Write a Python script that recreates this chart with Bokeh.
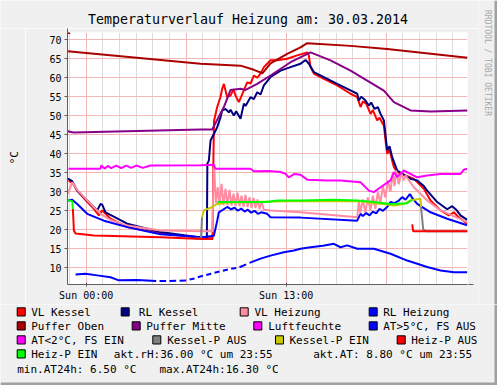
import math
from bokeh.plotting import figure
from bokeh.layouts import column, row
from bokeh.models import Range1d, FixedTicker, Arrow, NormalHead
from bokeh.core.properties import value
from bokeh.embed import file_html
from bokeh.resources import INLINE

NAN = float("nan")

# ---------------- data (x = hours after Sun 00:00, real elapsed time) ----------------
VL_KESSEL_T = [-1.06, -0.82, -0.54, -0.04, 0.46, 0.76, 0.96, 1.46, 2.46, 4.46, 6.96, 7.58, 7.64, 7.67, 7.86,
               8.06, 8.16, 8.26, 8.46, 8.66, 8.84, 8.96, 9.16, 9.46, 9.66, 9.86, 10.06, 10.26, 10.46, 10.66,
               11.06, 11.46, 12.06, 12.66, 13.26, 13.36, 13.46, 13.66, 14.26, 15.06, 15.86, 16.26, 16.46, 16.6,
               16.8, 17.06, 17.2, 17.46, 17.6, 17.86, 18.0, 18.06, 18.2, 18.36, 18.46, 18.66, 19.66, 20.26,
               20.66, 21.26, 21.76, 22.06, 22.3, 22.86]
VL_KESSEL_V = [33.0, 32.3, 30.3, 27.8, 25.5, 23.8, 25.1, 22.9, 20.7, 19.0, 17.9, 17.8, 41.0, 48.7, 52.3,
               55.0, 57.1, 58.4, 54.9, 55.3, 57.0, 55.3, 53.6, 56.7, 58.8, 58.5, 60.6, 60.0, 61.1, 62.8,
               64.6, 64.6, 65.0, 65.9, 66.7, 65.9, 62.8, 61.1, 59.7, 58.0, 55.8, 54.9, 52.3, 53.8,
               53.2, 50.5, 51.5, 48.8, 49.5, 47.4, 42.0, 40.0, 41.0, 38.2, 36.5, 35.2, 33.4, 30.8,
               27.7, 25.1, 23.8, 24.6, 23.5, 21.6]

RL_KESSEL_T = [-1.10, -0.84, -0.54, 0.46, 0.66, 0.86, 0.96, 1.16, 2.46, 4.46, 6.96, 7.24, 7.27, 7.36, 7.46,
               7.66, 7.86, 8.06, 8.16, 8.36, 8.56, 8.66, 8.86, 9.0, 9.26, 9.46, 9.56, 9.86, 10.06, 10.26,
               10.46, 10.66, 11.06, 11.66, 12.26, 12.86, 13.16, 13.36, 13.66, 14.26, 15.06, 15.86, 16.26,
               16.36, 16.5, 16.7, 16.96, 17.1, 17.3, 17.5, 17.66, 17.86, 18.06, 18.2, 18.36, 18.66, 19.46,
               19.86, 20.26, 20.46, 21.06, 21.66, 21.96, 22.2, 22.46, 22.86]
RL_KESSEL_V = [33.5, 32.8, 30.3, 25.95, 25.1, 26.8, 26.6, 24.6, 21.6, 19.4, 17.9, 17.9, 37.4, 38.2, 43.5,
               45.2, 47.0, 49.6, 51.4, 51.8, 50.9, 51.6, 50.1, 51.2, 49.2, 53.2, 52.6, 54.9, 54.4, 56.2,
               55.6, 58.0, 60.2, 61.9, 62.8, 63.7, 64.7, 63.7, 61.5, 60.2, 58.4, 56.7, 55.8,
               54.0, 55.0, 54.3, 52.7, 53.5, 51.8, 52.3, 50.5, 48.8, 40.9, 42.0, 39.1, 35.6, 33.4,
               33.0, 31.5, 30.3, 27.3, 25.4, 26.2, 25.3, 23.8, 22.6]

VL_HEIZUNG_T = [-1.10, -0.84, -0.54, 0.0, 0.46, 0.86, 1.5, 2.46, 4.46, 6.96, 7.58, 7.64, 7.68, 7.78, 7.9,
                8.0, 8.12, 8.24, 8.36, 8.48, 8.6, 8.72, 8.84, 8.96, 9.08, 9.2, 9.32, 9.44, 9.56, 9.68,
                9.8, 9.92, 10.04, 10.16, 10.28, 10.4, 10.52, 10.66, 11.06, 12.86, 16.26, 16.36, 16.45, 16.6,
                16.75, 16.9, 17.05, 17.2, 17.35, 17.5, 17.65, 17.8, 17.95, 18.1, 18.25, 18.4, 18.5, 18.6,
                18.75, 18.9, 19.05, 19.16, 19.66, 20.46, 21.26, 22.86]
VL_HEIZUNG_V = [29.5, 32.5, 30.5, 28.0, 25.95, 24.2, 22.5, 21.1, 19.8, 19.6, 19.6, 35.6, 36.5, 27.0, 31.2,
                26.5, 32.1, 26.5, 30.8, 26.4, 30.5, 26.4, 29.5, 26.3, 29.8, 26.2, 29.0, 26.0, 29.2, 26.0,
                28.6, 25.8, 28.4, 25.7, 28.0, 25.5, 27.5, 25.3, 25.1, 24.6, 23.3, 27.5, 24.5, 28.0,
                24.5, 28.5, 25.0, 29.0, 25.5, 30.0, 27.0, 31.5, 28.5, 33.0, 30.0, 35.0, 31.5, 35.6,
                32.0, 35.0, 33.0, 34.3, 31.2, 27.7, 25.1, 22.0]

RL_HEIZUNG_T = [-1.10, -0.84, -0.54, 0.06, 1.06, 2.46, 4.46, 6.96, 7.66, 7.86, 7.96, 8.46, 8.7, 8.9, 9.1,
                9.3, 9.5, 9.7, 9.9, 10.1, 10.3, 10.5, 10.86, 11.06, 12.86, 16.26, 16.46, 16.6, 16.8, 17.0,
                17.2, 17.4, 17.6, 17.8, 18.06, 18.26, 18.5, 18.76, 18.96, 19.16, 19.42, 19.56, 19.86, 20.66,
                21.66, 22.86]
RL_HEIZUNG_V = [27.7, 27.9, 26.8, 24.2, 22.4, 20.7, 18.8, 18.05, 18.4, 22.4, 24.6, 26.0, 25.4, 25.8, 25.0,
                25.6, 24.8, 25.3, 24.5, 25.0, 24.2, 24.6, 24.2, 23.3, 23.2, 22.4, 24.2, 23.6, 24.4, 23.8,
                24.8, 24.3, 25.5, 25.0, 26.0, 27.3, 27.0, 27.7, 28.6, 27.9, 29.4, 28.4, 26.8, 24.6,
                22.9, 21.2]

PUFFER_OBEN_T = [-1.12, 6.86, 9.26, 10.06, 10.58, 11.06, 12.06, 12.86, 13.26, 15.86, 18.06, 22.88]
PUFFER_OBEN_V = [67.0, 63.7, 63.2, 62.1, 61.2, 63.8, 66.3, 68.0, 69.1, 68.4, 67.6, 65.3]

PUFFER_MITTE_T = [-1.12, -0.76, 6.86, 7.56, 8.26, 8.66, 9.26, 9.56, 10.26, 11.06, 12.26, 13.46, 14.66,
                  15.86, 17.86, 18.46, 19.46, 20.66, 22.88]
PUFFER_MITTE_V = [45.95, 45.6, 46.4, 46.4, 52.3, 56.8, 57.1, 56.8, 58.4, 60.6, 64.1, 66.7, 64.6,
                  61.9, 56.6, 53.6, 51.4, 51.1, 51.4]

LUFTFEUCHTE_T = [-1.06, 0.86, 0.9, 1.1, 1.3, 1.5, 1.8, 2.1, 2.4, 2.7, 3.0, 3.4, 3.86, 6.86, 7.66, 7.76,
                 9.86, 10.06, 11.0, 11.66, 11.96, 12.16, 12.5, 12.86, 13.26, 14.5, 15.26, 16.46, 16.96,
                 17.26, 17.66, 18.26, 18.46, 18.66, 19.06, 19.86, 20.46, 21.26, 22.46, 22.66, 22.86]
LUFTFEUCHTE_V = [36.05, 36.05, 36.9, 36.1, 36.8, 36.2, 36.9, 36.2, 36.9, 36.3, 36.9, 36.3, 36.9, 37.0,
                 37.1, 36.05, 36.05, 35.4, 35.5, 35.2, 34.7, 33.8, 34.7, 34.5, 33.2, 33.0, 33.0, 32.5,
                 30.3, 29.9, 31.2, 33.0, 35.2, 33.9, 35.6, 33.8, 34.3, 34.7, 34.7, 35.8, 36.05]

# outside temperature above 5 °C (gaps = missing samples)
AT_WARM_T = [-0.64, -0.04, 0.66, 1.46, 1.96, 3.06, 4.2, NAN, 4.4, 4.8, NAN, 5.0, 5.4, NAN, 5.6, 6.0, NAN,
             6.2, 6.5, NAN, 6.7, 7.0, NAN, 7.2, 7.5, NAN, 7.7, 8.0, NAN, 8.2, 8.5, NAN, 8.7, 9.0, NAN,
             9.2, 9.6, NAN, 9.8, 10.46, 11.06, 11.86, 12.46, 12.86, 13.46, 14.2, 14.86, 15.26, 15.66,
             16.26, 17.26, 18.26, 19.26, 20.46, 21.26, 22.06, 22.86]
AT_WARM_V = [8.2, 8.4, 8.0, 7.5, 6.7, 6.8, 6.5, NAN, 6.5, 6.55, NAN, 6.55, 6.6, NAN, 6.6, 6.65, NAN,
             6.9, 7.2, NAN, 7.5, 7.9, NAN, 8.1, 8.45, NAN, 8.7, 9.0, NAN, 9.2, 9.55, NAN, 9.75, 9.95, NAN,
             10.15, 10.9, NAN, 11.3, 12.4, 13.2, 14.1, 14.55, 15.0, 15.4, 15.8, 16.3, 15.4, 15.9,
             15.0, 15.0, 13.7, 11.9, 10.2, 9.3, 8.85, 8.8]

KESSEL_P_AUS_T = [6.5, 6.89, 6.95, NAN, 20.09, 20.22, 20.4, 22.88]
KESSEL_P_AUS_V = [17.7, 17.7, 23.3, NAN, 26.0, 20.1, 19.6, 19.6]

KESSEL_P_EIN_T = [6.95, 7.06, 7.46, 7.86, 8.5, 12.0, 16.5, 17.26, 17.86, 18.46, 19.06, 19.46, 20.06, 20.09]
KESSEL_P_EIN_V = [23.3, 25.1, 25.8, 26.8, 27.2, 27.5, 27.5, 27.0, 26.8, 26.4, 26.8, 27.7, 28.2, 26.0]

HEIZ_P_AUS_T = [-0.80, -0.76, -0.74, -0.64, 0.46, 4.46, 6.96, 7.62, NAN, 19.56, 19.62, 22.88]
HEIZ_P_AUS_V = [25.5, 22.0, 19.8, 19.0, 18.5, 18.05, 17.6, 17.6, NAN, 21.4, 19.6, 19.6]

HEIZ_P_EIN_T = [-1.10, -0.84, -0.80, NAN, 7.86, 8.86, 10.86, 11.46, 12.86, 14.86, 16.26, 17.26, 18.26,
                19.26, 19.46, 19.56]
HEIZ_P_EIN_V = [27.8, 27.5, 25.5, NAN, 27.3, 27.3, 27.3, 27.7, 27.7, 27.9, 27.7, 27.3, 26.8,
                27.0, 27.7, 27.8]

Y_TICKS = [10, 15, 20, 25, 30, 35, 40, 45, 50, 55, 60, 65, 70]
X_LABEL_TICKS = [0, 12]
X_LABELS = ["Sun 00:00", "Sun 13:00"]
X_MAJOR_GRID = [0, 6, 12, 18]
X_MINOR_GRID = list(range(-1, 23))

TITLE = "Temperaturverlauf Heizung am: 30.03.2014"
Y_LABEL = "°C"
WATERMARK = "RRDTOOL / TOBI OETIKER"

LEGEND_LABELS = ["VL Kessel", "RL Kessel", "VL Heizung", "RL Heizung",
                 "Puffer Oben", "Puffer Mitte", "Luftfeuchte", "AT>5°C, FS AUS",
                 "AT<2°C, FS EIN", "Kessel-P AUS", "Kessel-P EIN", "Heiz-P AUS",
                 "Heiz-P EIN"]
LEGEND_COLORS = ["#FF0000", "#000080", "#FF8CA0", "#0000FF",
                 "#AA0000", "#880088", "#FF00FF", "#0000FF",
                 "#FF00FF", "#808080", "#C8C800", "#FF0000",
                 "#00FF00"]
INFO_TEXTS = ["akt.rH:36.00 °C um 23:55", "akt.AT: 8.80 °C um 23:55",
              "min.AT24h: 6.50 °C", "max.AT24h:16.30 °C"]

# ---------------- layout geometry (page pixels) ----------------
FONT = "DejaVu Sans Mono"
BG = "#F0F0F0"
EDGE = "#A0A0A0"
W, H = 497, 385
LEFT_W = 25          # strip holding the rotated unit label
WM_X = 478           # watermark strip starts here
TITLE_H = 28
MAIN_BOTTOM = 304    # main chart strip ends here
FRAME_L, FRAME_R, FRAME_T, FRAME_B = 67, 467, 32, 284
TXT_SHIFT = -3.0     # text glyph baseline correction


def strip(x0, x1, y0, y1):
    """A plain figure whose data coordinates are page pixels (y grows downwards)."""
    f = figure(width=x1 - x0, height=y1 - y0, output_backend="svg", toolbar_location=None,
               x_range=Range1d(x0, x1), y_range=Range1d(y1, y0),
               x_axis_type=None, y_axis_type=None,
               min_border_left=0, min_border_right=0, min_border_top=0, min_border_bottom=0,
               background_fill_color=BG, border_fill_color=BG, outline_line_color=None)
    f.xgrid.visible = False
    f.ygrid.visible = False
    return f


def no_align(f):
    try:
        f.frame_align = False
    except Exception:
        pass
    return f


# ---------------- main chart ----------------
MAIN_W = WM_X - LEFT_W
MAIN_H = MAIN_BOTTOM - TITLE_H
p = figure(width=MAIN_W, height=MAIN_H, output_backend="svg", toolbar_location=None,
           x_range=Range1d(-1.122, 22.878), y_range=Range1d(5.6, 71.92),
           min_border_left=FRAME_L - LEFT_W, min_border_right=WM_X - FRAME_R,
           min_border_top=FRAME_T - TITLE_H, min_border_bottom=MAIN_BOTTOM - FRAME_B,
           background_fill_color="white", border_fill_color=BG, outline_line_color=None)

p.xgrid.ticker = FixedTicker(ticks=X_MAJOR_GRID, minor_ticks=X_MINOR_GRID)
p.xgrid.grid_line_color = "#F2B8B8"
p.xgrid.minor_grid_line_color = "#DCDCDC"
p.ygrid.ticker = FixedTicker(ticks=Y_TICKS)
p.ygrid.grid_line_color = "#F2B8B8"

p.yaxis.ticker = FixedTicker(ticks=Y_TICKS)
p.xaxis.ticker = FixedTicker(ticks=X_LABEL_TICKS)
p.xaxis.major_label_overrides = {t: s for t, s in zip(X_LABEL_TICKS, X_LABELS)}
for ax in (p.xaxis, p.yaxis):
    ax.axis_line_color = "#606060"
    ax.major_tick_line_color = "#606060"
    ax.minor_tick_line_color = None
    ax.major_label_text_font = FONT
    ax.major_label_text_font_size = "10px"
    ax.major_label_text_color = "#000000"
p.yaxis.major_tick_out = 3
p.yaxis.major_tick_in = 0
p.yaxis.major_label_standoff = 3
p.xaxis.major_tick_out = 2
p.xaxis.major_tick_in = 2
p.xaxis.major_label_standoff = 3

series = [
    (VL_KESSEL_T, VL_KESSEL_V, LEGEND_COLORS[0]),
    (RL_KESSEL_T, RL_KESSEL_V, LEGEND_COLORS[1]),
    (VL_HEIZUNG_T, VL_HEIZUNG_V, LEGEND_COLORS[2]),
    (RL_HEIZUNG_T, RL_HEIZUNG_V, LEGEND_COLORS[3]),
    (PUFFER_OBEN_T, PUFFER_OBEN_V, LEGEND_COLORS[4]),
    (PUFFER_MITTE_T, PUFFER_MITTE_V, LEGEND_COLORS[5]),
    (LUFTFEUCHTE_T, LUFTFEUCHTE_V, LEGEND_COLORS[6]),
    (AT_WARM_T, AT_WARM_V, LEGEND_COLORS[7]),
    (KESSEL_P_AUS_T, KESSEL_P_AUS_V, LEGEND_COLORS[9]),
    (KESSEL_P_EIN_T, KESSEL_P_EIN_V, LEGEND_COLORS[10]),
    (HEIZ_P_AUS_T, HEIZ_P_AUS_V, LEGEND_COLORS[11]),
    (HEIZ_P_EIN_T, HEIZ_P_EIN_V, LEGEND_COLORS[12]),
]
for xs, ys, c in series:
    p.line(xs, ys, line_color=c, line_width=2)

p.add_layout(Arrow(end=NormalHead(size=5, fill_color="#A00000", line_color="#A00000"),
                   x_start=0, y_start=249, x_end=0, y_end=256,
                   start_units="screen", end_units="screen", line_color="#606060", line_width=1))
p.add_layout(Arrow(end=NormalHead(size=5, fill_color="#A00000", line_color="#A00000"),
                   x_start=398, y_start=0, x_end=406, y_end=0,
                   start_units="screen", end_units="screen", line_color="#606060", line_width=1))

# ---------------- title strip ----------------
tf = strip(0, WM_X, 0, TITLE_H)
tf.text(x=[247.5], y=[21.7 + TXT_SHIFT], text=[TITLE], text_font=value(FONT), text_font_size=value("13.3px"),
        text_align="center", text_baseline="alphabetic", text_color="#000000")

# ---------------- unit label strip ----------------
yl = strip(0, LEFT_W, TITLE_H, MAIN_BOTTOM)
yl.text(x=[13.8], y=[157.2], text=[Y_LABEL], text_font=value(FONT), text_font_size=value("11px"),
        text_align="center", text_baseline="middle", angle=math.pi / 2, text_color="#000000")

# ---------------- watermark strip ----------------
wm = strip(WM_X, W, 0, MAIN_BOTTOM)
wm.text(x=[487.0], y=[62.5], text=[WATERMARK], text_font=value(FONT), text_font_size=value("8px"),
        text_align="center", text_baseline="middle", angle=-math.pi / 2, text_color="#A8A8A8")
wm.quad(left=[W - 3], right=[W], top=[0], bottom=[MAIN_BOTTOM], fill_color=EDGE, line_color=None)

# ---------------- legend strip ----------------
lg = strip(0, W, MAIN_BOTTOM, H)
ROW_BASE = [315.0, 329.0, 343.0, 357.0, 371.5]
LEG_POS = [
    (16.7, 30.7, 0), (120.7, 138.3, 0), (239.7, 254.0, 0), (368.7, 382.7, 0),
    (16.7, 30.7, 1), (131.7, 145.7, 1), (253.3, 267.7, 1), (368.7, 382.7, 1),
    (16.7, 30.7, 2), (152.3, 166.7, 2), (275.0, 289.0, 2), (396.7, 410.7, 2),
    (16.7, 30.7, 3),
]
lg.quad(left=[bx for bx, tx, r in LEG_POS], right=[bx + 8 for bx, tx, r in LEG_POS],
        top=[ROW_BASE[r] - 7.7 for bx, tx, r in LEG_POS], bottom=[ROW_BASE[r] + 0.5 for bx, tx, r in LEG_POS],
        fill_color=LEGEND_COLORS, line_color="#000000", line_width=1)
txt_x = [tx for bx, tx, r in LEG_POS] + [113.3, 312.7, 16.7, 159.0]
txt_y = [ROW_BASE[r] + TXT_SHIFT for bx, tx, r in LEG_POS] + \
        [ROW_BASE[3] + TXT_SHIFT, ROW_BASE[3] + TXT_SHIFT, ROW_BASE[4] + TXT_SHIFT, ROW_BASE[4] + TXT_SHIFT]
lg.text(x=txt_x, y=txt_y, text=LEGEND_LABELS + INFO_TEXTS, text_font=value(FONT),
        text_font_size=value("11px"), text_baseline="alphabetic", text_align="left", text_color="#000000")
lg.quad(left=[W - 3, 0], right=[W, W], top=[MAIN_BOTTOM, H - 3], bottom=[H, H],
        fill_color=EDGE, line_color=None)

for f in (p, tf, yl, wm, lg):
    no_align(f)

layout = column(
    row(column(tf, row(yl, p, spacing=0), spacing=0), wm, spacing=0),
    lg, spacing=0)
open("out.html", "w").write(file_html(layout, INLINE, title="Temperaturverlauf Heizung"))
